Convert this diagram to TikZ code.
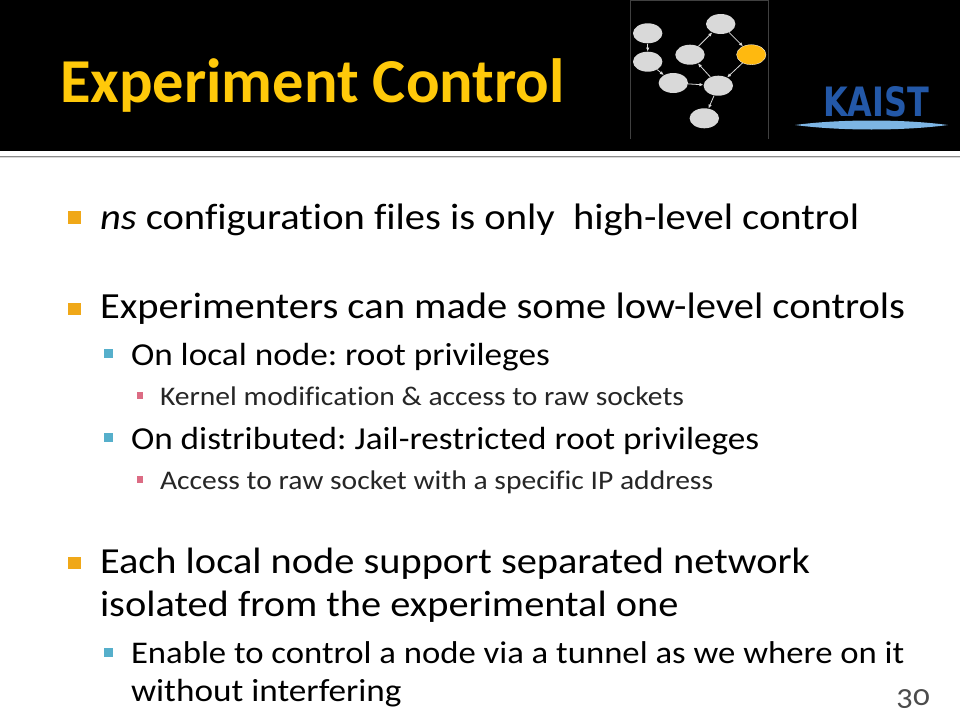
\documentclass[tikz,border=0pt]{standalone}
\usepackage{fontspec}
\setmainfont{Carlito}[FakeStretch=1.1,Ligatures=NoCommon]
\newfontfamily\titlefont{Carlito}[Ligatures=NoCommon]
\newfontfamily\numfont{Carlito}[Numbers=OldStyle,FakeStretch=1.1]
\newfontfamily\logofont{DejaVu Sans}
\usetikzlibrary{arrows.meta,shapes.geometric}
\definecolor{gold}{HTML}{F0A818}
\definecolor{titley}{HTML}{FFC90A}
\definecolor{orangen}{HTML}{FFB90F}
\definecolor{teal}{HTML}{56AFCB}
\definecolor{rosec}{HTML}{DC6C84}
\definecolor{nodegray}{HTML}{D9D9D9}
\definecolor{kblue}{HTML}{2358A8}
\definecolor{klens}{HTML}{7DB5E4}
\tikzset{
 x=1pt,y=-1pt,
 gnode/.style={ellipse,fill=nodegray,minimum width=29.4pt,minimum height=20pt,inner sep=0pt},
 onode/.style={gnode,fill=orangen,draw=white,line width=.3pt},
 link/.style={draw=nodegray,line width=.8pt,-{Latex[length=4pt,width=3.5pt]}},
 txt/.style={anchor=base west,inner sep=0pt,outer sep=0pt,text=black},
 la/.style={txt,font=\fontsize{36.85}{37}\selectfont},
 laa/.style={txt,font=\fontsize{36.7}{37}\selectfont},
 lb/.style={txt,font=\fontsize{32}{32}\selectfont},
 lbb/.style={txt,font=\fontsize{31.55}{32}\selectfont},
 lc/.style={txt,font=\fontsize{26.9}{26.9}\selectfont,text=black!85},
 ba/.style={fill=gold,minimum size=12.5pt,inner sep=0pt},
 bb/.style={fill=teal,minimum size=9pt,inner sep=0pt},
 bc/.style={fill=rosec,minimum size=6.7pt,inner sep=0pt},
}
\begin{document}
\frenchspacing
\begin{tikzpicture}
\useasboundingbox (0,0) rectangle (960,720);
\fill[white] (0,0) rectangle (960,720);
\fill[black] (0,0) rectangle (960,151);
\fill[black!45] (0,155.5) rectangle (960,157);
\fill[black!15] (0,157) rectangle (960,158);
\node[anchor=base west,inner sep=0pt,text=titley,font=\titlefont\bfseries\fontsize{62.5}{62.5}\selectfont] (title) at (60,102) {Experiment Control};
% network frame
\coordinate (fa) at (630.5,139);
\coordinate (fb) at (630.5,0.5);
\coordinate (fc) at (768.5,0.5);
\coordinate (fd) at (768.5,139);
\draw[black!75,line width=.5pt] (fa) -- (fb) -- (fc) -- (fd);
\node[gnode] (n1) at (647.7,33.3) {};
\node[gnode] (n2) at (647.7,61.7) {};
\node[gnode] (n3) at (673.3,83) {};
\node[gnode] (n4) at (718.3,85.7) {};
\node[gnode] (n5) at (704.3,118.3) {};
\node[gnode] (n6) at (690,54.7) {};
\node[gnode] (n7) at (720.7,24) {};
\node[onode] (n8) at (751.3,54.7) {};
\draw[link] (n1) -- (n2);
\draw[link] (n2) -- (n3);
\draw[link] (n3) -- (n4);
\draw[link] (n4) -- (n5);
\draw[link] (n4) -- (n6);
\draw[link] (n6) -- (n7);
\draw[link] (n7) -- (n8);
\draw[link] (n8) -- (n4);
% logo
\fill[klens] (795,125) .. controls (840,119) and (903,119) .. (948,125) .. controls (903,131) and (840,131) .. (795,125) -- cycle;
\node[inner sep=0pt,text=kblue] (logo) at (876,102) {\resizebox{106pt}{30pt}{\logofont\bfseries KAIST}};
% bullets
\node[ba] (b1) at (74.5,217.5) {};
\node[la] (t1) at (100,229) {\textit{ns} configuration files is only\ \ high-level control};
\node[ba] (b2) at (74.5,309) {};
\node[la] (t2) at (100,318) {Experimenters can made some low-level controls};
\node[bb] (b3) at (108.5,353.5) {};
\node[lb] (t3) at (131,365) {On local node: root privileges};
\node[bc] (b4) at (140,395.5) {};
\node[lc] (t4) at (160,405) {Kernel modification \& access to raw sockets};
\node[bb] (b5) at (108.5,437.5) {};
\node[lb] (t5) at (131,449) {On distributed: Jail-restricted root privileges};
\node[bc] (b6) at (140,479.5) {};
\node[lc] (t6) at (160,489) {Access to raw socket with a specific IP address};
\node[ba] (b7) at (74.5,563) {};
\node[laa] (t7) at (100,573) {Each local node support separated network};
\node[laa] (t8) at (100,616) {isolated from the experimental one};
\node[bb] (b8) at (108.5,652) {};
\node[lbb] (t9) at (131,663) {Enable to control a node via a tunnel as we where on it};
\node[lb] (t10) at (131,701) {without interfering};
\node[anchor=base east,inner sep=0pt,text=black!70,font=\numfont\fontsize{30}{30}\selectfont] (num) at (930,705) {30};
\end{tikzpicture}
\end{document}
